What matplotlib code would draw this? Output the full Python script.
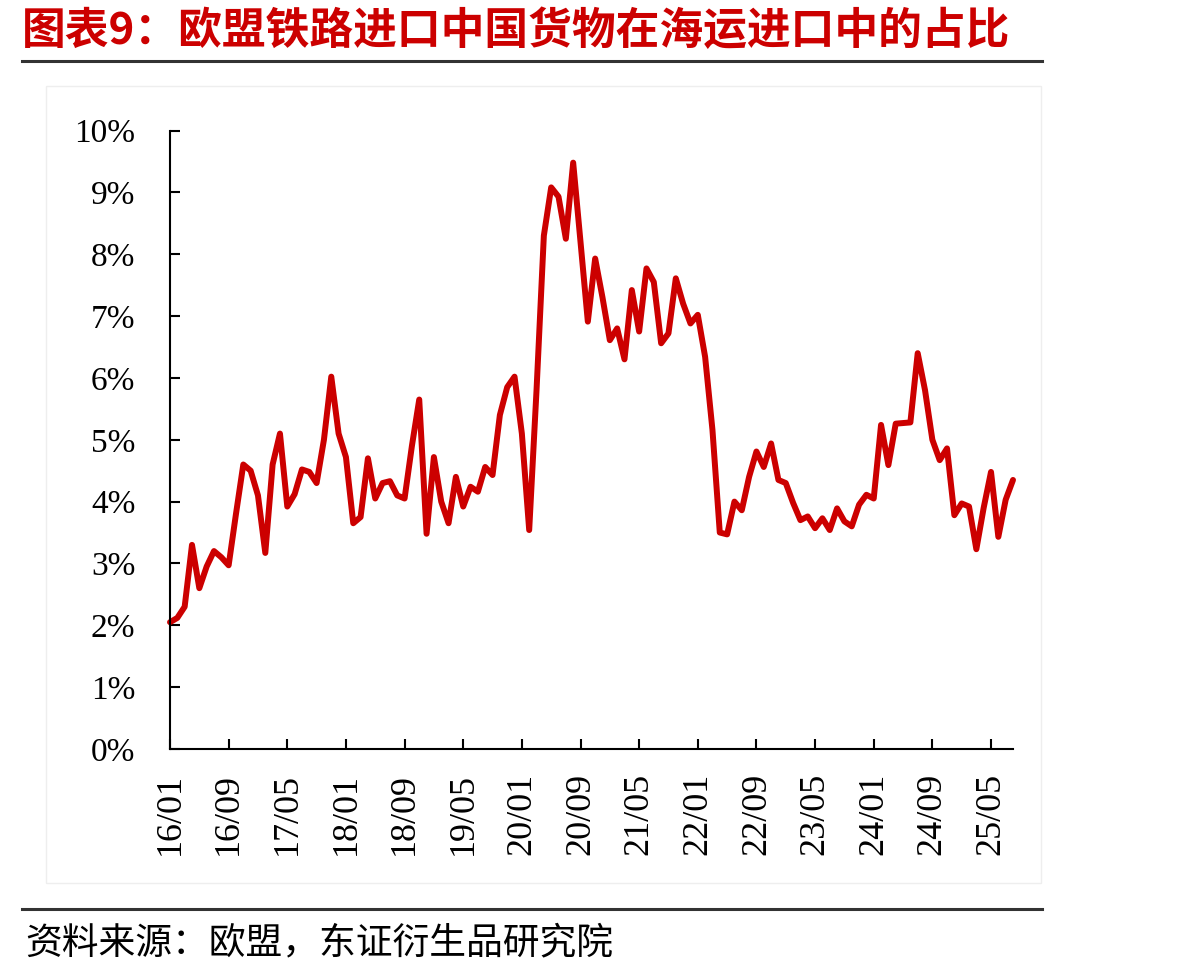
import numpy as np
import matplotlib
matplotlib.use('Agg')
import matplotlib.pyplot as plt
from matplotlib.lines import Line2D
from matplotlib.patches import Rectangle

# monthly share (%), 2016/01 .. 2025/08
share = [2.05, 2.12, 2.30, 3.30, 2.60, 2.95, 3.20, 3.10, 2.97, 3.80,
         4.60, 4.50, 4.10, 3.17, 4.60, 5.10, 3.92, 4.12, 4.52, 4.48,
         4.30, 5.00, 6.02, 5.10, 4.72, 3.65, 3.75, 4.70, 4.05, 4.30,
         4.33, 4.10, 4.05, 4.90, 5.65, 3.48, 4.72, 4.00, 3.65, 4.40,
         3.92, 4.24, 4.16, 4.56, 4.43, 5.40, 5.85, 6.02, 5.10, 3.54,
         5.80, 8.30, 9.08, 8.93, 8.25, 9.48, 8.20, 6.91, 7.93, 7.30,
         6.61, 6.80, 6.30, 7.42, 6.75, 7.77, 7.55, 6.56, 6.72, 7.61,
         7.20, 6.88, 7.02, 6.34, 5.16, 3.50, 3.47, 4.00, 3.86, 4.40,
         4.81, 4.56, 4.94, 4.35, 4.30, 3.98, 3.70, 3.76, 3.57, 3.73,
         3.54, 3.89, 3.68, 3.60, 3.95, 4.11, 4.05, 5.24, 4.59, 5.26,
         5.27, 5.28, 6.40, 5.80, 5.00, 4.67, 4.86, 3.78, 3.97, 3.92,
         3.23, 3.90, 4.48, 3.43, 4.03, 4.35]
months = np.arange(len(share))

xtick_pos = list(range(0, 113, 8))
xtick_labels = ['16/01', '16/09', '17/05', '18/01', '18/09', '19/05', '20/01', '20/09',
                '21/05', '22/01', '22/09', '23/05', '24/01', '24/09', '25/05']
ytick_pos = list(range(0, 11))
ytick_labels = ['%d%%' % v for v in ytick_pos]

title = '图表9：欧盟铁路进口中国货物在海运进口中的占比'
source = '资料来源：欧盟，东证衍生品研究院'

red = '#CC0000'
cjk = ['Noto Sans CJK SC', 'DejaVu Sans']
serif = 'Liberation Serif'

fig = plt.figure(figsize=(11.97, 9.75), dpi=100)
W, H = 1197., 975.

def fx(px):
    return px / W

def fy(py):
    return 1 - py / H

# faint frame around the chart area
fig.patches.append(Rectangle((fx(46), fy(883)), fx(1041) - fx(46), fy(86) - fy(883),
                             transform=fig.transFigure, fill=False,
                             edgecolor='#EEEEEE', linewidth=1))

# title and rules
fig.text(fx(22), fy(31), title, family=cjk, weight='bold', color=red,
         fontsize=31.5, ha='left', va='center')
fig.add_artist(Line2D([fx(22), fx(1042)], [fy(61), fy(61)], color='#333333',
                      linewidth=2.2, transform=fig.transFigure))
fig.add_artist(Line2D([fx(22), fx(1042)], [fy(909), fy(909)], color='#333333',
                      linewidth=2.2, transform=fig.transFigure))
fig.text(fx(25), fy(943), source, family=cjk, color='black',
         fontsize=26.5, ha='left', va='center')

ax = fig.add_axes([fx(170), fy(749), fx(1013) - fx(170), fy(130.5) - fy(749)])
ax.plot(months, share, color=red, linewidth=4.3, solid_joinstyle='round',
        solid_capstyle='round', clip_on=False)

ax.set_xlim(0, 115)
ax.set_ylim(0, 10)
for s in ['top', 'right']:
    ax.spines[s].set_visible(False)
for s in ['left', 'bottom']:
    ax.spines[s].set_linewidth(1.5)
    ax.spines[s].set_color('black')

ax.set_xticks(xtick_pos)
ax.set_xticklabels(xtick_labels, rotation=90, family=serif, fontsize=26)
ax.set_yticks(ytick_pos)
ax.set_yticklabels(ytick_labels, family=serif, fontsize=24)
ax.tick_params(axis='x', direction='in', length=7, width=1.5, pad=17)
ax.tick_params(axis='y', direction='in', length=7, width=1.5, pad=25)

fig.savefig('out.png', dpi=100)
